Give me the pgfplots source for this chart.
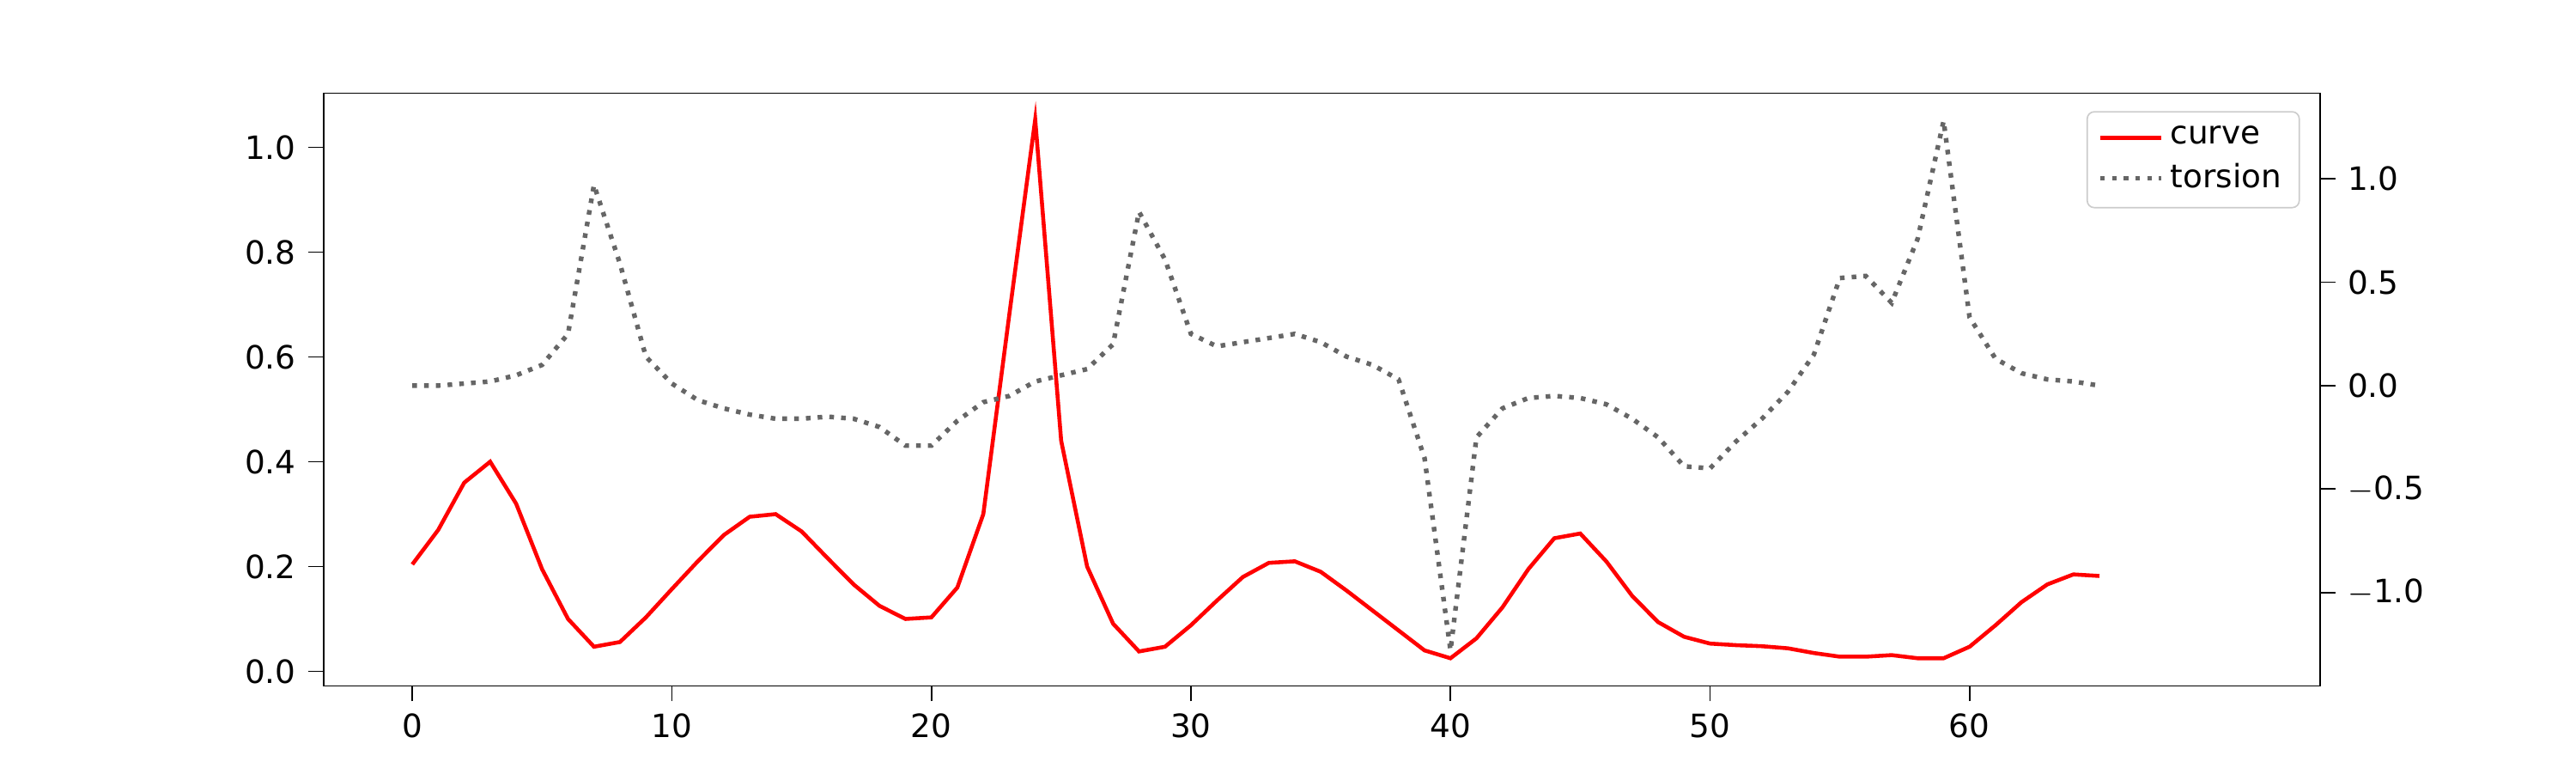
\documentclass[border=0pt]{standalone}
\usepackage{pgfplots}
\pgfplotsset{compat=1.18}
\usepackage{fontspec}
\setmainfont{DejaVu Sans}
\begin{document}
\begin{tikzpicture}
\path[use as bounding box] (-1.256in,-0.338in) rectangle (8.744in,2.662in);
\pgfplotsset{every axis/.style={scale only axis,width=7.75in,height=2.30in,xmin=-3.42,xmax=73.5,
  tick style={black,thin},tick align=outside,font=\fontsize{9}{11}\selectfont,
  /pgf/number format/assume math mode=true,/pgf/number format/fixed,/pgf/number format/precision=1}}
\begin{axis}[ytick pos=left,xtick pos=bottom,ymin=-0.028,ymax=1.103,axis line style={black,thin},
  ytick={0,0.2,0.4,0.6,0.8,1.0},yticklabels={0.0,0.2,0.4,0.6,0.8,1.0},xtick={0,10,20,30,40,50,60}]
\addplot[red,line width=1.1pt] coordinates {
(0,0.204)(1,0.27)(2,0.36)(3,0.40)(4,0.32)(5,0.195)(6,0.10)(7,0.047)(8,0.056)(9,0.103)
(10,0.157)(11,0.21)(12,0.26)(13,0.295)(14,0.30)(15,0.267)(16,0.216)(17,0.166)(18,0.125)(19,0.10)
(20,0.103)(21,0.16)(22,0.30)(23,0.68)(24,1.053)(25,0.44)(26,0.20)(27,0.091)(28,0.038)(29,0.047)
(30,0.088)(31,0.135)(32,0.18)(33,0.207)(34,0.21)(35,0.19)(36,0.154)(37,0.116)(38,0.078)(39,0.04)
(40,0.025)(41,0.063)(42,0.122)(43,0.195)(44,0.254)(45,0.263)(46,0.21)(47,0.144)(48,0.094)(49,0.066)
(50,0.053)(51,0.05)(52,0.048)(53,0.044)(54,0.035)(55,0.028)(56,0.028)(57,0.031)(58,0.025)(59,0.025)
(60,0.047)(61,0.088)(62,0.132)(63,0.166)(64,0.185)(65,0.182)};
\end{axis}
\begin{axis}[axis y line*=right,axis x line=none,ymin=-1.452,ymax=1.413,axis line style={black,thin},
  ytick={-1,-0.5,0,0.5,1},yticklabels={$-$1.0,$-$0.5,0.0,0.5,1.0},
  legend style={at={(0.99,0.97)},anchor=north east,draw=black!20,rounded corners=2pt,font=\fontsize{9}{11}\selectfont,cells={anchor=west}},
  legend cell align=left]
\addlegendimage{red,line width=1.1pt}\addlegendentry{curve}
\addplot[black!60,line width=1.3pt,dotted] coordinates {
(0,0.0)(1,0.0)(2,0.01)(3,0.02)(4,0.05)(5,0.1)(6,0.25)(7,0.97)(8,0.59)(9,0.14)
(10,0.01)(11,-0.07)(12,-0.11)(13,-0.14)(14,-0.16)(15,-0.16)(16,-0.15)(17,-0.16)(18,-0.2)(19,-0.29)
(20,-0.29)(21,-0.17)(22,-0.08)(23,-0.05)(24,0.02)(25,0.05)(26,0.08)(27,0.2)(28,0.84)(29,0.61)
(30,0.25)(31,0.19)(32,0.21)(33,0.23)(34,0.25)(35,0.21)(36,0.14)(37,0.1)(38,0.03)(39,-0.35)
(40,-1.28)(41,-0.25)(42,-0.11)(43,-0.06)(44,-0.05)(45,-0.06)(46,-0.09)(47,-0.16)(48,-0.25)(49,-0.39)
(50,-0.40)(51,-0.27)(52,-0.16)(53,-0.03)(54,0.15)(55,0.52)(56,0.53)(57,0.40)(58,0.71)(59,1.28)
(60,0.33)(61,0.13)(62,0.06)(63,0.03)(64,0.02)(65,0.0)};
\addlegendentry{torsion}
\end{axis}
\end{tikzpicture}
\end{document}
